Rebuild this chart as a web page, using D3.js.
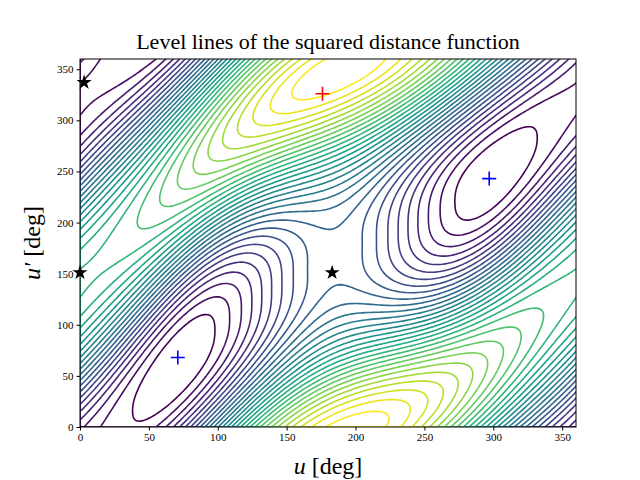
<!DOCTYPE html><html><head><meta charset="utf-8">
<script src="https://cdn.jsdelivr.net/npm/d3@7"></script>
<style>body{margin:0;background:#fff}svg{font-family:"Liberation Serif",serif}</style></head><body>
<svg id="c" width="640" height="480"></svg>
<script>
// field parameters
const ridgeOffset = [152];          // deg, ridge along u-u' ≈ -150
const valleyShift = [26, 295];      // amplitude, phase of valley wobble
const valleyCenter = [184];         // valley symmetric about u≈184
const ridgePhase = [188];           // ridge maximum near u≈188
const amps = [0.28, 0.44, 0.6];
const minima = [[71,68],[297,243]];
const maxima = [[176,326]];
const saddles = [[3,337],[0,151],[183,151]];
const ticks = [0,50,100,150,200,250,300,350];
const nLevels = 30;

const N = 181, step = 360/(N-1), R = Math.PI/180;
const vals = new Array(N*N);
for (let j=0;j<N;j++) for (let i=0;i<N;i++){
  const u=i*step, v=j*step, d=u-v;
  const c=Math.cos((d+ridgeOffset[0]-valleyShift[0]*Math.cos((u-valleyShift[1])*R))*R);
  const wv=(1-c)/2, wr=Math.pow((1+c)/2,3);
  const xv=(u-valleyCenter[0])*R;
  vals[j*N+i]=Math.pow(1+c,1.3) + (amps[0]*Math.cos(2*xv)+amps[1]*Math.cos(xv))*wv + amps[2]*Math.cos((u-ridgePhase[0])*R)*wr;
}
const ext=d3.extent(vals);
const thr=d3.range(1,nLevels+1).map(k=>ext[0]+(ext[1]-ext[0])*k/(nLevels+1));
const svg=d3.select("#c");
const L=80,Rr=576,T=59,B=427;
const x=d3.scaleLinear().domain([0,360]).range([L,Rr]);
const y=d3.scaleLinear().domain([0,360]).range([B,T]);
const col=d3.scaleSequential(d3.interpolateViridis).domain([thr[0],thr[thr.length-1]]);
svg.append("clipPath").attr("id","cp").append("rect").attr("x",L).attr("y",T).attr("width",Rr-L).attr("height",B-T);
const proj=d3.geoTransform({point:function(px,py){this.stream.point(x(px*step),y(py*step));}});
const path=d3.geoPath(proj);
const cs=d3.contours().size([N,N]).thresholds(thr)(vals);
svg.append("g").attr("clip-path","url(#cp)").selectAll("path").data(cs).join("path")
 .attr("d",path).attr("fill","none").attr("stroke",d=>col(d.value)).attr("stroke-width",1.6);
svg.append("rect").attr("x",L).attr("y",T).attr("width",Rr-L).attr("height",B-T).attr("fill","none").attr("stroke","#000");
svg.append("g").attr("transform",`translate(0,${B})`).call(d3.axisBottom(x).tickValues(ticks).tickSize(3.5)).attr("font-size",11).attr("font-family","Liberation Serif").select(".domain").remove();
svg.append("g").attr("transform",`translate(${L},0)`).call(d3.axisLeft(y).tickValues(ticks).tickSize(3.5)).attr("font-size",11).attr("font-family","Liberation Serif").select(".domain").remove();
const cross=(p,c)=>{svg.append("path").attr("d",`M${x(p[0])-7},${y(p[1])}h14M${x(p[0])},${y(p[1])-7}v14`).attr("stroke",c).attr("stroke-width",1.6);};
minima.forEach(p=>cross(p,"blue")); maxima.forEach(p=>cross(p,"red"));
svg.selectAll(".st").data(saddles).join("path").attr("d",d3.symbol(d3.symbolStar,70)).attr("transform",d=>`translate(${x(d[0])},${y(d[1])})`).attr("fill","#000");
svg.append("text").attr("x",328).attr("y",49).attr("text-anchor","middle").attr("font-size",22).text("Level lines of the squared distance function");
const xl=svg.append("text").attr("x",328).attr("y",474).attr("text-anchor","middle").attr("font-size",24);
xl.append("tspan").attr("font-style","italic").text("u"); xl.append("tspan").text(" [deg]");
const yl=svg.append("text").attr("transform","translate(40,243) rotate(-90)").attr("text-anchor","middle").attr("font-size",24);
yl.append("tspan").attr("font-style","italic").text("u′"); yl.append("tspan").text(" [deg]");
</script></body></html>
